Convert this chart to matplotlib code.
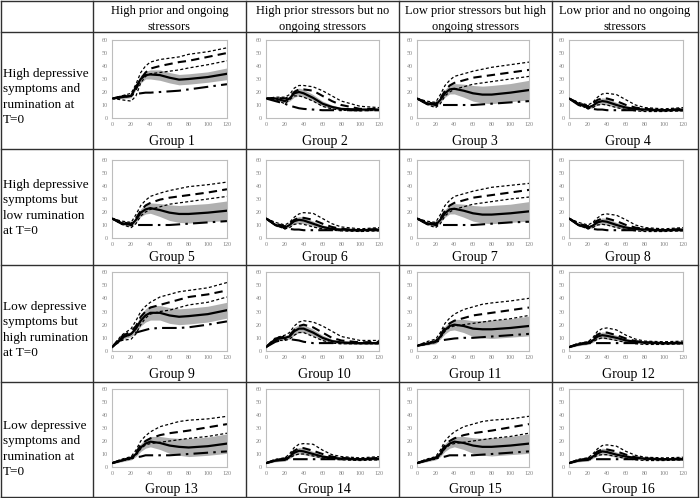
import numpy as np
import matplotlib.pyplot as plt
from matplotlib.lines import Line2D

plt.rcParams['font.family'] = ['Liberation Serif', 'DejaVu Serif']

# time points (x axis)
t = [0, 10, 20, 25, 30, 35, 40, 50, 60, 70, 80, 100, 120]

col_titles = ['High prior and ongoing\nstressors',
              'High prior stressors but no\nongoing stressors',
              'Low prior stressors but high\nongoing stressors',
              'Low prior and no ongoing\nstressors']
row_titles = ['High depressive\nsymptoms and\nrumination at\nT=0',
              'High depressive\nsymptoms but\nlow rumination\nat T=0',
              'Low depressive\nsymptoms but\nhigh rumination\nat T=0',
              'Low depressive\nsymptoms and\nrumination at\nT=0']
group_names = ['Group %d' % (i + 1) for i in range(16)]

# mean trajectory (solid line), one list per group
mean_vals = [
    [15, 16, 17, 24, 30, 33, 33.5, 33, 31, 29.5, 30, 31.5, 34],
    [15, 15, 13, 15, 19, 20, 19, 15.5, 11, 8.5, 7, 6.5, 6.5],
    [15, 11.5, 10, 14, 19, 22, 22.5, 21, 19, 18, 18, 19.5, 21.5],
    [15, 11, 8, 9.5, 12, 13, 12.5, 10, 8, 7, 6.5, 6, 6.5],
    [15, 11.5, 10, 14, 19.5, 22, 23, 21.5, 19.5, 18.5, 18.5, 19.5, 21],
    [15, 10, 8, 10, 13, 14, 13.5, 11, 8.5, 7, 6.5, 6, 6.5],
    [15, 11.5, 10, 14, 19, 22, 22.5, 21, 19, 18, 18, 19, 20.5],
    [15, 10, 8, 9.5, 12, 13, 12.5, 10, 8, 7, 6.5, 6, 6.5],
    [3, 10, 13, 17, 23, 27, 29, 29, 27, 26, 26.5, 28, 31],
    [3, 9, 10, 11, 15, 17, 17, 14, 10, 7.5, 6.5, 6, 6],
    [4, 5.5, 7, 11, 16, 19, 20, 19, 17, 16.5, 16.5, 17.5, 19],
    [3, 5, 6, 8, 11, 12, 11.5, 10, 8, 7, 6.5, 6, 6],
    [3, 5, 7, 10, 15, 18, 19.5, 18.5, 16.5, 15.5, 15, 16, 18],
    [3, 5, 5.5, 8, 11, 12.5, 12, 10, 8, 7, 6.5, 6, 6.5],
    [3, 5, 7, 10, 15, 18, 19.5, 18.5, 16.5, 15.5, 15.5, 16.5, 18],
    [3, 5, 5.5, 8, 10.5, 12, 11.5, 9.5, 8, 7, 6.5, 6, 6],
]

# half width of the grey band around the mean
band_a = [0.5, 1, 1.5, 2, 3, 3, 3.5, 4, 4, 4, 4, 4, 4.5]
band_b = [0.5, 1, 1.5, 2, 3, 3, 3, 2.5, 2, 1.5, 1, 1, 1]
band_c = [0.5, 1, 1.5, 2, 3, 3.5, 4, 5, 6, 6.5, 7, 7, 7.5]
band_d = [0.5, 1, 1, 1.5, 2, 2.5, 2.5, 2, 1.5, 1, 1, 1, 1]
band_e = [0.5, 1.5, 2, 3, 4, 5, 5.5, 5.5, 6, 6, 6, 6, 6]
band_half = [band_a, band_b, band_c, band_d,
             band_c, band_d, band_c, band_d,
             band_e, band_b, band_c, band_d,
             band_c, band_d, band_c, band_d]

# upper short-dashed line
up_dotted = [
    [15, 17, 19, 26, 35, 40, 43, 45, 46, 47, 49, 51, 54],
    [15, 16, 16, 18, 23, 25, 25, 24, 21, 17, 13, 9, 8],
    [15, 13, 12, 18, 25, 29, 32, 34, 36, 37.5, 39, 41, 43],
    [15, 12, 10, 12, 16, 18.5, 19, 18, 14, 10, 8, 7, 8],
    [15, 13, 12, 18, 25, 29, 32, 34.5, 36.5, 38, 39.5, 41, 43],
    [15, 12, 10, 12, 16, 18.5, 19.5, 19, 15, 11, 8.5, 7, 8],
    [15, 13, 12, 18, 25, 29, 32, 34, 36, 37.5, 39, 40.5, 42],
    [15, 12, 10, 12, 15.5, 18, 18.5, 17.5, 14, 10, 8, 7, 8],
    [3, 12, 17, 23, 30, 34, 37, 41, 43, 45, 46, 48, 52],
    [3, 10, 12, 14, 19, 22, 23, 22, 19, 15, 11, 8, 8],
    [4, 7, 9, 14, 21, 25, 28, 31.5, 33.5, 35.5, 36.5, 38, 40],
    [3, 6, 7, 10, 15, 17, 17.5, 16, 12, 9, 7.5, 7, 7.5],
    [3, 6, 8, 13, 20, 24, 27, 31, 33, 35, 36, 37, 39],
    [3, 6, 7, 10, 15, 17.5, 18, 17.5, 13, 9.5, 8, 7, 8],
    [3, 6, 8, 13, 20, 24, 27, 31, 33, 35, 36, 37, 39],
    [3, 6, 7, 10, 14, 16.5, 17, 16, 12, 9, 7.5, 7, 7.5],
]

# middle long-dashed line
long_dash = [
    [15, 16, 17, 22, 30, 35, 38, 40, 41.5, 43, 44, 47, 50],
    [15, 15.5, 15, 16, 20, 22, 22, 21, 17, 13, 10, 7, 7],
    [15, 12, 11, 15, 21, 25, 27, 29, 31, 32, 33, 35, 37],
    [15, 11.5, 9, 11, 14, 15, 15, 13, 10, 8, 7, 6, 7],
    [15, 12, 11, 15, 21, 25, 27, 29.5, 31, 32, 33, 35, 37.5],
    [15, 11, 9, 11, 14, 15.5, 15.5, 14, 11, 8.5, 7, 6, 7],
    [15, 12, 11, 15, 21, 25, 27, 29, 31, 32, 33, 35, 37],
    [15, 11, 9, 11, 13.5, 15, 15, 13, 10, 8, 7, 6, 7],
    [3, 11, 15, 19, 26, 30, 33, 35, 37, 39, 41, 43, 46],
    [3, 9.5, 11, 12, 16, 19, 20, 18, 14, 10, 8, 6.5, 7],
    [4, 6, 7.5, 12, 18, 21, 23, 25, 27, 28, 29, 31, 33],
    [3, 5.5, 6.5, 9, 12.5, 14, 14, 12, 9.5, 7.5, 6.5, 6, 6.5],
    [3, 5.5, 7, 11, 17, 20, 22, 24.5, 26, 27, 28, 30.5, 33],
    [3, 5.5, 6.5, 9, 12.5, 14.5, 14.5, 12.5, 10, 8, 7, 6, 7],
    [3, 5.5, 7, 11, 17, 20, 22, 24.5, 26, 27, 28, 30.5, 33],
    [3, 5.5, 6.5, 9, 12, 13.5, 13.5, 12, 9.5, 7.5, 6.5, 6, 6.5],
]

# lower short-dashed line
low_dotted = [
    [15, 14, 13, 17, 27, 32, 34, 35, 36, 37, 38.5, 41, 44],
    [15, 14, 11, 14, 17, 17, 16, 13, 9, 7, 6, 5.5, 6],
    [15, 10.5, 8, 11, 17, 20, 22, 24, 26, 27, 28, 30, 32],
    [15, 10.5, 7, 8, 10, 10.5, 10, 8, 6.5, 5.5, 5, 5, 5.5],
    [15, 10.5, 8, 11, 17, 20, 22, 24, 26, 27, 28, 30, 32],
    [15, 10, 7, 8, 10.5, 11, 10.5, 8.5, 7, 6, 5.5, 5, 5.5],
    [15, 10.5, 8, 11, 17, 20, 22, 24, 26, 27, 28, 30, 31.5],
    [15, 10, 7, 8, 10, 10.5, 10, 8, 6.5, 5.5, 5, 5, 5.5],
    [3, 8, 9, 13, 20, 25, 28, 30, 31, 33, 35, 37, 41],
    [3, 8, 8, 9, 12, 14, 14, 11, 8, 6, 5.5, 5.5, 5.5],
    [4, 5, 6.5, 10, 15, 18, 19, 20, 21, 22, 23, 24.5, 27],
    [3, 5, 5.5, 7, 9, 10, 9.5, 8, 6.5, 5.5, 5, 5, 5.5],
    [3, 5, 6, 9, 14, 17, 18, 19, 20, 21, 22, 23.5, 26],
    [3, 5, 5.5, 7, 9, 10, 10, 8.5, 7, 6, 5.5, 5, 5.5],
    [3, 5, 6, 9, 14, 17, 18, 19, 20, 21, 22, 23.5, 26],
    [3, 5, 5.5, 7, 9, 9.5, 9.5, 8, 6.5, 5.5, 5, 5, 5.5],
]

# dash-dot reference line
dash_dot = [
    [15, 16.5, 18, 18.5, 19, 19.5, 19.5, 20, 20.5, 21, 22, 24, 26],
    [15, 13, 11, 9.5, 8.5, 7.5, 7, 6.5, 6, 6, 6, 6, 6],
    [15, 11, 10, 10, 10, 10, 10, 10, 10, 10.5, 11, 12, 13],
    [15, 10, 7.5, 7, 6.5, 6.5, 6, 6, 6, 6, 6, 6, 6],
    [15, 11, 10, 10, 10, 10, 10, 10, 10, 10.5, 11, 12, 13],
    [15, 10, 7.5, 7, 6.5, 6.5, 6, 6, 6, 6, 6, 6, 6],
    [15, 11, 10, 10, 10, 10, 10, 10, 10, 10.5, 11, 12, 12.5],
    [15, 10, 7.5, 7, 6.5, 6.5, 6, 6, 6, 6, 6, 6, 6],
    [3, 9, 13, 14, 15, 16, 17, 17.5, 17.5, 17.5, 18, 20, 22.5],
    [3, 7, 9, 9, 8.5, 8, 7, 6, 6, 6, 6, 6, 6],
    [4, 5.5, 7, 8, 8.5, 9, 9.5, 10, 10, 10.5, 11, 12, 13],
    [3, 5, 6, 6, 6, 6, 6, 6, 6, 6, 6, 6, 6],
    [3, 5, 6.5, 7.5, 8, 9, 9, 9, 9, 9.5, 10, 11, 12],
    [3, 5, 6, 6, 6, 6, 6, 6, 6, 6, 6, 6, 6],
    [3, 5, 6.5, 7.5, 8, 9, 9, 9, 9, 9.5, 10, 11, 12],
    [3, 5, 6, 6, 6, 6, 6, 6, 6, 6, 6, 6, 6],
]

W, H = 700, 498
fig = plt.figure(figsize=(7, 4.98), dpi=100)


def px(x, y):
    return x / W, 1 - y / H


# table grid
vlines = [1, 93, 246, 399, 552, 698]
hlines = [1, 32, 149, 265, 382, 497]
for x in vlines:
    fig.add_artist(Line2D([x / W, x / W], [1 - 1 / H, 1 - 497 / H], color='#303030', lw=1))
for y in hlines:
    fig.add_artist(Line2D([1 / W, 698 / W], [1 - y / H, 1 - y / H], color='#303030', lw=1))

# headers
for j, s in enumerate(col_titles):
    cx = (vlines[j + 1] + vlines[j + 2]) / 2
    fig.text(*px(cx, 19), s, ha='center', va='center', fontsize=9, linespacing=1.4)

row_text_y = [97, 208, 330, 449]
for i, s in enumerate(row_titles):
    fig.text(*px(3, row_text_y[i]), s, ha='left', va='center', fontsize=9.5, linespacing=1.4)

# panel boxes in pixels
col_x = [(112, 227), (266, 379), (417, 529), (569, 683)]
row_y = [(40, 118), (160, 238), (272, 351), (389, 467)]
label_y = [142, 257, 374, 489]

t = np.array(t)
for g in range(16):
    r, c = divmod(g, 4)
    x0, x1 = col_x[c]
    y0, y1 = row_y[r]
    ax = fig.add_axes([x0 / W, 1 - y1 / H, (x1 - x0) / W, (y1 - y0) / H])
    m = np.array(mean_vals[g])
    hw = np.array(band_half[g])
    ax.fill_between(t, m - hw, m + hw, color='#b0b0b0', lw=0, zorder=1)
    ax.plot(t, up_dotted[g], color='black', lw=0.9, dashes=(2.4, 1.8), zorder=2)
    ax.plot(t, low_dotted[g], color='black', lw=0.9, dashes=(2.4, 1.8), zorder=2)
    ax.plot(t, long_dash[g], color='black', lw=1.5, dashes=(4, 2.5), zorder=2)
    ax.plot(t, dash_dot[g], color='black', lw=1.5, dashes=(7, 2.5, 1.2, 2.5), zorder=2)
    ax.plot(t, m, color='black', lw=1.6, zorder=3)
    ax.set_xlim(0, 120)
    ax.set_ylim(0, 60)
    ax.set_xticks(range(0, 121, 20))
    ax.set_yticks(range(0, 61, 10))
    ax.tick_params(length=0, labelsize=4.3, labelcolor='#808080', pad=3)
    for sp in ax.spines.values():
        sp.set_color('#bdbdbd')
        sp.set_linewidth(0.8)
    fig.text(*px((x0 + x1) / 2 + 2, label_y[r]), group_names[g],
             ha='center', va='center', fontsize=10)

fig.savefig('out.png', dpi=100)
